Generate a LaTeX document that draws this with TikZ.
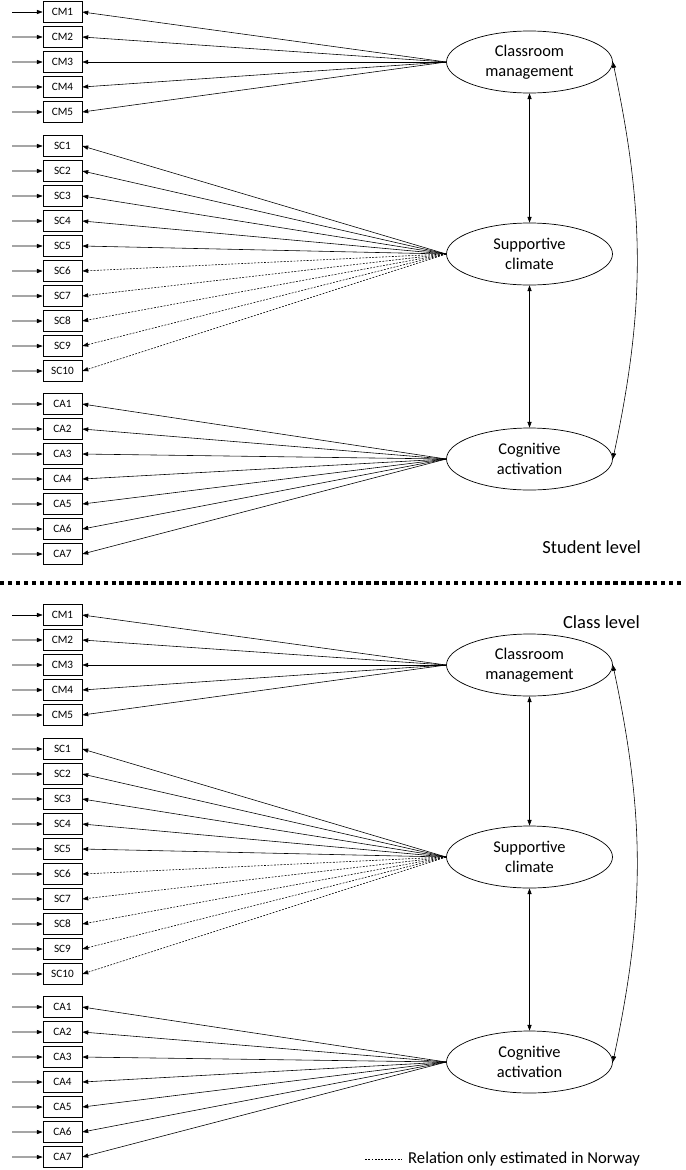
\documentclass[tikz,border=0pt]{standalone}
\usepackage{fontspec}
\setmainfont{Carlito}
\usetikzlibrary{arrows.meta,shapes.geometric}

\tikzset{
  indicator/.style={draw, line width=0.6pt, minimum width=1.17cm, minimum height=0.63cm, inner sep=0pt, font=\fontsize{9.6}{11}\selectfont},
  latent/.style={draw, ellipse, line width=0.6pt, minimum width=4.98cm, minimum height=1.86cm, inner sep=0pt, align=center, font=\fontsize{14}{17}\selectfont},
  path/.style={->, line width=0.5pt},
  cov/.style={<->, line width=0.5pt},
  fixed/.style={dash pattern=on 1.6pt off 1.2pt},
  levellabel/.style={anchor=east, inner sep=0pt, font=\fontsize{15.8}{19}\selectfont},
  >={Triangle[length=5pt, width=3.6pt]}
}

\begin{document}
\begin{tikzpicture}[scale = 0.75]

\useasboundingbox (0, 0) rectangle (27.4, -46.8);

% student level
\begin{scope}
\foreach \i in {1,...,5} {
  \node[indicator] (sCM\i) at (2.5, {-0.48-(\i-1)}) {CM\i};
  \coordinate (sCMin\i) at (0.48, {-0.48-(\i-1)});
  \draw[path] (sCMin\i) -- (sCM\i);
}
\foreach \i in {1,...,10} {
  \node[indicator] (sSC\i) at (2.5, {-5.84-(\i-1)}) {SC\i};
  \coordinate (sSCin\i) at (0.48, {-5.84-(\i-1)});
  \draw[path] (sSCin\i) -- (sSC\i);
}
\foreach \i in {1,...,7} {
  \node[indicator] (sCA\i) at (2.5, {-16.16-(\i-1)}) {CA\i};
  \coordinate (sCAin\i) at (0.48, {-16.16-(\i-1)});
  \draw[path] (sCAin\i) -- (sCA\i);
}

\node[latent] (sCM) at (21.18, -2.48) {Classroom\\management};
\node[latent] (sSC) at (21.18, -10.16) {Supportive\\climate};
\node[latent] (sCA) at (21.18, -18.36) {Cognitive\\activation};

\foreach \i in {1,...,5} \draw[path] (sCM.west) -- (sCM\i.east);
\foreach \i in {1,...,5} \draw[path] (sSC.west) -- (sSC\i.east);
\foreach \i in {6,...,10} \draw[path, fixed] (sSC.west) -- (sSC\i.east);
\foreach \i in {1,...,7} \draw[path] (sCA.west) -- (sCA\i.east);

\draw[cov] (sCM) -- (sSC);
\draw[cov] (sSC) -- (sCA);
\draw[cov] (sCM.east) to[out=-78, in=78] (sCA.east);

\node[levellabel] (slevel) at (25.64, -21.88) {Student level};
\end{scope}

\draw[line width=3.6pt, dash pattern=on 3.6pt off 3.2pt] (0, -23.32) -- (27.4, -23.32);

% class level
\begin{scope}[shift={(0, -24.12)}]
\foreach \i in {1,...,5} {
  \node[indicator] (cCM\i) at (2.5, {-0.48-(\i-1)}) {CM\i};
  \coordinate (cCMin\i) at (0.48, {-0.48-(\i-1)});
  \draw[path] (cCMin\i) -- (cCM\i);
}
\foreach \i in {1,...,10} {
  \node[indicator] (cSC\i) at (2.5, {-5.84-(\i-1)}) {SC\i};
  \coordinate (cSCin\i) at (0.48, {-5.84-(\i-1)});
  \draw[path] (cSCin\i) -- (cSC\i);
}
\foreach \i in {1,...,7} {
  \node[indicator] (cCA\i) at (2.5, {-16.16-(\i-1)}) {CA\i};
  \coordinate (cCAin\i) at (0.48, {-16.16-(\i-1)});
  \draw[path] (cCAin\i) -- (cCA\i);
}

\node[latent] (cCM) at (21.18, -2.48) {Classroom\\management};
\node[latent] (cSC) at (21.18, -10.16) {Supportive\\climate};
\node[latent] (cCA) at (21.18, -18.36) {Cognitive\\activation};

\foreach \i in {1,...,5} \draw[path] (cCM.west) -- (cCM\i.east);
\foreach \i in {1,...,5} \draw[path] (cSC.west) -- (cSC\i.east);
\foreach \i in {6,...,10} \draw[path, fixed] (cSC.west) -- (cSC\i.east);
\foreach \i in {1,...,7} \draw[path] (cCA.west) -- (cCA\i.east);

\draw[cov] (cCM) -- (cSC);
\draw[cov] (cSC) -- (cCA);
\draw[cov] (cCM.east) to[out=-78, in=78] (cCA.east);

\node[levellabel] (clevel) at (25.6, -0.76) {Class level};
\end{scope}

% legend
\coordinate (legA) at (14.6, -46.36);
\coordinate (legB) at (16.08, -46.36);
\draw[line width=0.5pt, fixed] (legA) -- (legB);
\node[anchor=west, inner sep=0pt, font=\fontsize{14.2}{17}\selectfont] (legend) at (16.32, -46.36) {Relation only estimated in Norway};

\end{tikzpicture}
\end{document}
